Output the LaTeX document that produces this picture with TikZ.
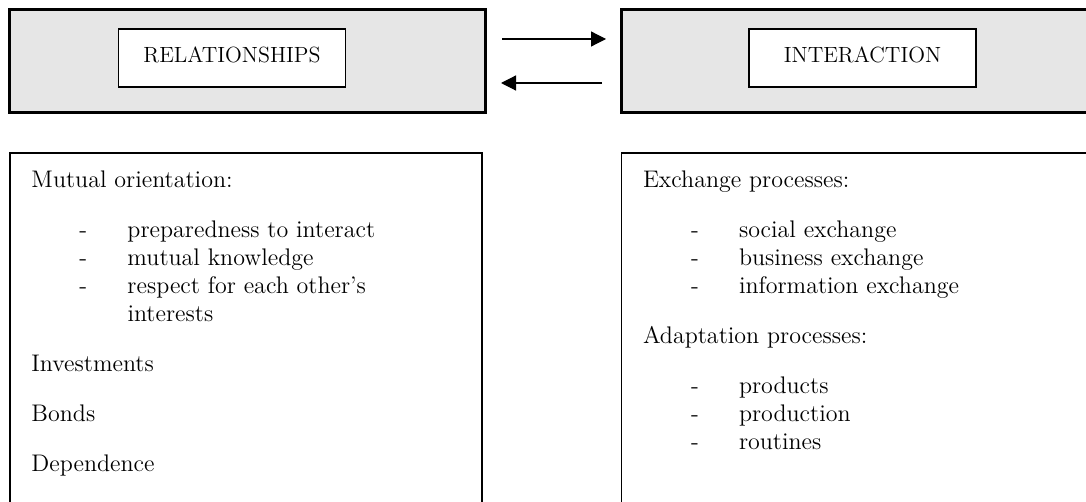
\documentclass[tikz,border=0pt]{standalone}
\usepackage{xcolor}
\usepackage{tikz}
\usetikzlibrary{arrows.meta, positioning}
\definecolor{panelgray}{HTML}{E6E6E6}
\newcommand{\dashitem}[1]{\hspace*{24pt}\makebox[24pt][l]{-}#1}

\begin{document}
\begin{tikzpicture}[x=0.5pt, y=0.5pt, font=\fontsize{12pt}{14pt}\selectfont, >={Triangle[length=7.5pt, width=7.5pt]},
    panel/.style={draw, line width=1.5pt, fill=panelgray, minimum width=238pt, minimum height=51.5pt},
    tag/.style={draw, line width=0.9pt, fill=white, minimum width=113.5pt, minimum height=29pt, text depth=3pt, font=\fontsize{11pt}{13pt}\selectfont},
    notebox/.style={draw, line width=0.9pt, minimum width=236pt, minimum height=188.5pt},
    notes/.style={inner sep=0pt, align=left, anchor=north west}]
    \useasboundingbox (0,0) rectangle (1086,-502);
    \node[panel] (relpanel) at (247.5,-61) {};
    \node[panel, right=66.25pt of relpanel] (intpanel) {};
    \node[tag] (reltag) at ([xshift=-7.75pt, yshift=1.5pt]relpanel.center) {RELATIONSHIPS};
    \node[tag] (inttag) at ([xshift=1.75pt, yshift=1.5pt]intpanel.center) {INTERACTION};
    \node[notebox, below=19pt of relpanel, xshift=-0.75pt] (relbody) {};
    \node[notebox, below=19pt of intpanel, xshift=-0.75pt] (intbody) {};

    \node[notes] (relnotes) at ([xshift=11pt, yshift=-9.2pt]relbody.north west) {Mutual orientation:\\[11pt]
        \dashitem{preparedness to interact}\\
        \dashitem{mutual knowledge}\\
        \dashitem{respect for each other’s}\\
        \hspace*{48pt}interests\\[11pt]
        Investments\\[11pt]
        Bonds\\[11pt]
        Dependence};
    \node[notes] (intnotes) at ([xshift=11pt, yshift=-9.2pt]intbody.north west) {Exchange processes:\\[11pt]
        \dashitem{social exchange}\\
        \dashitem{business exchange}\\
        \dashitem{information exchange}\\[11pt]
        Adaptation processes:\\[11pt]
        \dashitem{products}\\
        \dashitem{production}\\
        \dashitem{routines}};

    \draw[->, line width=0.6pt] ([xshift=7.5pt, yshift=11pt]relpanel.east) -- ([xshift=-6.75pt, yshift=11pt]intpanel.west);
    \draw[->, line width=0.6pt] ([xshift=-8.75pt, yshift=-11pt]intpanel.west) -- ([xshift=7pt, yshift=-11pt]relpanel.east);
\end{tikzpicture}
\end{document}
